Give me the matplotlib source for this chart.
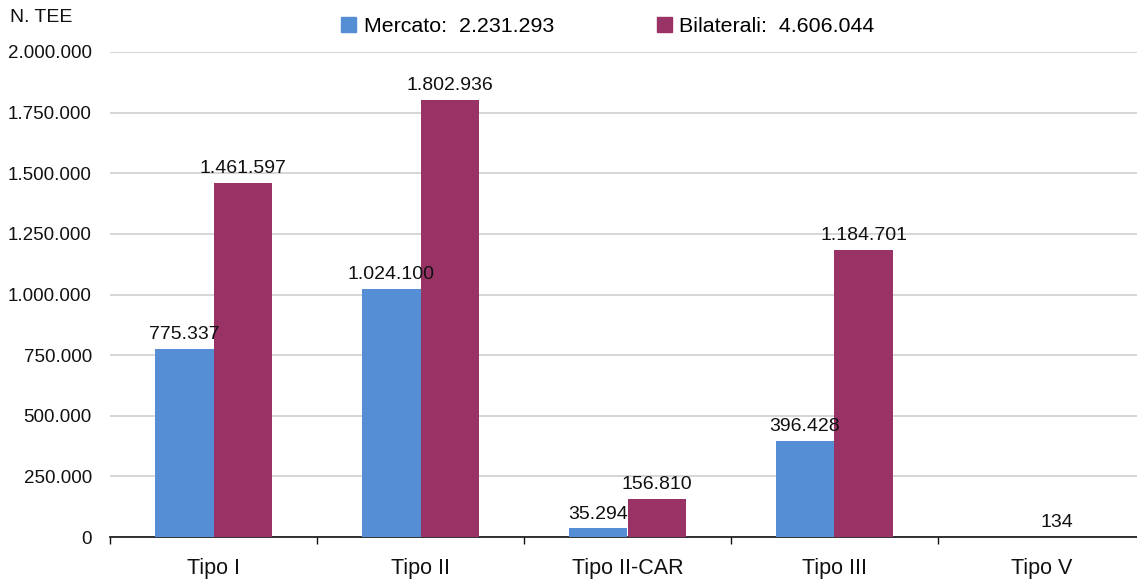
import matplotlib
matplotlib.use("Agg")
import matplotlib.pyplot as plt
from matplotlib.ticker import FuncFormatter, FixedLocator
import numpy as np

categories = ["Tipo I", "Tipo II", "Tipo II-CAR", "Tipo III", "Tipo V"]
mercato = [775337, 1024100, 35294, 396428, 134]
bilaterali = [1461597, 1802936, 156810, 1184701, 0]
series_names = ["Mercato", "Bilaterali"]
colors = ["#558ED5", "#993366"]

plt.rcParams['font.family'] = ['Liberation Sans', 'DejaVu Sans']
W, H = 1137, 579
fig = plt.figure(figsize=(W / 100, H / 100), dpi=100)
left, right, bottom, top = 110, 1145, 537, 52
ax = fig.add_axes([left / W, (H - bottom) / H, (right - left) / W, (bottom - top) / H])

def fmt(v):
    return f"{int(v):,}".replace(",", ".")

x = np.arange(len(categories))
bw = 0.285
b1 = ax.bar(x - bw / 2, mercato, bw, color=colors[0], zorder=3)
b2 = ax.bar(x + bw / 2, bilaterali, bw, color=colors[1], zorder=3)

for bars, vals in ((b1, mercato), (b2, bilaterali)):
    for rect, v in zip(bars, vals):
        if v == 0:
            continue
        dx = 0
        if v < 1000:
            dx = 32
        ax.annotate(fmt(v), (rect.get_x() + rect.get_width() / 2, v),
                    xytext=(dx, 4), textcoords="offset points",
                    ha="center", va="bottom", fontsize=14, color="#111111")

ax.set_xlim(-0.5, len(categories) - 0.5)
ax.set_ylim(0, 2000000)
ax.set_yticks(np.arange(0, 2000001, 250000))
ax.yaxis.set_major_formatter(FuncFormatter(lambda v, p: fmt(v)))
ax.tick_params(axis='y', length=0, labelsize=13.5, pad=13, colors="#111111")
ax.grid(axis='y', color="#d0d0d0", linewidth=1.2, zorder=0)
ax.set_xticks(x)
ax.set_xticklabels(categories)
ax.tick_params(axis='x', which='major', length=0, labelsize=15.5, pad=15, colors="#111111")
ax.xaxis.set_minor_locator(FixedLocator(np.arange(-0.5, len(categories), 1.0)))
ax.tick_params(axis='x', which='minor', length=5, width=1, color="#111111", direction='out')
for s in ("top", "right", "left"):
    ax.spines[s].set_visible(False)
ax.spines["bottom"].set_color("#111111")
ax.spines["bottom"].set_linewidth(1.2)

fig.text(10 / W, 1 - 18 / H, "N. TEE", fontsize=14, va="center", ha="left", color="#111111")

handles = [plt.Rectangle((0, 0), 1, 1, color=c) for c in colors]
labels = [f"{n}:  {fmt(sum(v))}" for n, v in zip(series_names, (mercato, bilaterali))]
fig.legend(handles, labels, loc="center", bbox_to_anchor=(608 / W, 1 - 26 / H), ncol=2,
           frameon=False, fontsize=15.4, handlelength=0.7, handleheight=0.7,
           handletextpad=0.35, columnspacing=4.8)

fig.savefig("out.png", dpi=100)
